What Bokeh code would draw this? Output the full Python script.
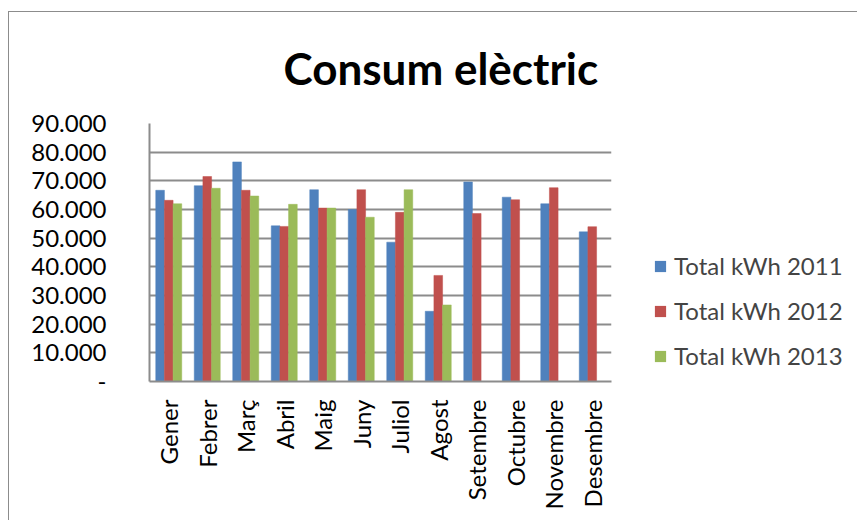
from bokeh.plotting import figure
from bokeh.layouts import row
from bokeh.models import (ColumnDataSource, FactorRange, Range1d, FixedTicker, Legend,
                          LegendItem)
from bokeh.transform import dodge
from bokeh.embed import file_html
from bokeh.resources import INLINE
import math

months = ["Gener", "Febrer", "Març", "Abril", "Maig", "Juny", "Juliol", "Agost",
          "Setembre", "Octubre", "Novembre", "Desembre"]
kwh_2011 = [66700, 68300, 76600, 54300, 66900, 60000, 48600, 24500, 69600, 64300, 62000, 52200]
kwh_2012 = [63200, 71500, 66700, 54100, 60500, 66900, 59000, 37000, 58600, 63400, 67600, 54000]
kwh_2013 = [62000, 67400, 64700, 61800, 60500, 57300, 66900, 26700, None, None, None, None]
y_ticks = [0, 10000, 20000, 30000, 40000, 50000, 60000, 70000, 80000, 90000]
y_tick_labels = ["-", "10.000", "20.000", "30.000", "40.000", "50.000", "60.000",
                 "70.000", "80.000", "90.000"]
series_names = ["Total kWh 2011", "Total kWh 2012", "Total kWh 2013"]
colors = ["#4F81BD", "#C0504D", "#9BBB59"]
title_text = "Consum elèctric"

nan = float("nan")
src = ColumnDataSource(dict(
    month=months,
    y2011=kwh_2011,
    y2012=kwh_2012,
    y2013=[nan if v is None else v for v in kwh_2013],
))
cols = ["y2011", "y2012", "y2013"]

FONT = "Lato"
GRID = "#8c8c8c"

p = figure(width=620, height=508, x_range=FactorRange(*months, range_padding=0),
           y_range=Range1d(0, 90000), output_backend="svg", toolbar_location=None,
           min_border_left=140, min_border_right=18, min_border_top=111,
           min_border_bottom=139, title=title_text)
p.outline_line_color = None
p.background_fill_color = "white"
p.border_fill_color = "white"

p.title.text_font = FONT
p.title.text_font_style = "bold"
p.title.text_font_size = "44px"
p.title.text_color = "black"
p.title.align = "left"
p.title.vertical_align = "top"
p.title.offset = 134
p.title.standoff = 55

bw = 0.225
for i, (col, c) in enumerate(zip(cols, colors)):
    p.vbar(x=dodge("month", (i - 1) * bw, range=p.x_range), top=col, width=bw,
           source=src, fill_color=c, line_color=c, line_width=0.5)

# axes
p.yaxis.ticker = FixedTicker(ticks=y_ticks, minor_ticks=[])
p.yaxis.major_label_overrides = {t: l for t, l in zip(y_ticks, y_tick_labels)}
p.yaxis.major_tick_line_color = None
p.yaxis.minor_tick_line_color = None
p.yaxis.major_label_standoff = 37
p.yaxis.axis_line_color = GRID
p.yaxis.axis_line_width = 2
p.yaxis.major_label_text_font = FONT
p.yaxis.major_label_text_font_size = "24px"
p.yaxis.major_label_text_color = "black"

p.xaxis.major_label_orientation = math.pi / 2
p.xaxis.major_tick_line_color = None
p.xaxis.axis_line_color = GRID
p.xaxis.axis_line_width = 2
p.xaxis.major_label_standoff = 12
p.xaxis.major_label_text_font = FONT
p.xaxis.major_label_text_font_size = "24px"
p.xaxis.major_label_text_color = "black"

p.xgrid.grid_line_color = None
p.ygrid.ticker = FixedTicker(ticks=y_ticks[1:])
p.ygrid.grid_line_color = GRID
p.ygrid.grid_line_width = 2

# legend panel: separate figure to the right; its zero-width bars draw nothing,
# so only the legend is visible there
pl = figure(width=228, height=508, x_range=FactorRange(*months), y_range=Range1d(-2, -1),
            output_backend="svg", toolbar_location=None, x_axis_type=None,
            y_axis_type=None, min_border=0)
pl.outline_line_color = None
pl.xgrid.visible = False
pl.ygrid.visible = False
leg_renderers = [pl.vbar(x="month", top=col, width=0, source=src,
                         fill_color=c, line_color=c, line_alpha=0, line_width=0)
                 for col, c in zip(cols, colors)]
legend = Legend(items=[LegendItem(label=n, renderers=[r])
                       for n, r in zip(series_names, leg_renderers)],
                location=(24, 11), orientation="vertical",
                glyph_width=14, glyph_height=14, label_text_font=FONT,
                label_text_font_size="24px", label_standoff=7, spacing=16,
                padding=0, margin=0, border_line_alpha=0, background_fill_alpha=0)
pl.add_layout(legend)

layout = row(p, pl)
layout.styles = {"margin-left": "8px", "margin-top": "11px",
                 "border-left": "1px solid " + GRID, "border-top": "1px solid " + GRID}

open("out.html", "w").write(file_html(layout, INLINE))
